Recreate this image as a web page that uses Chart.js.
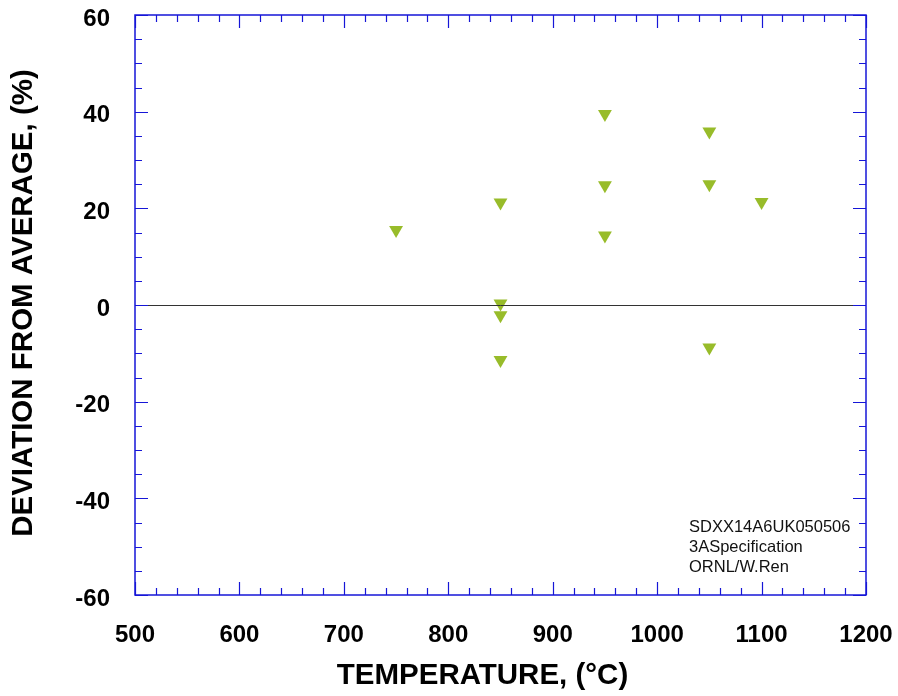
<!DOCTYPE html>
<html>
<head>
<meta charset="utf-8">
<script src="https://cdn.jsdelivr.net/npm/chart.js@4/dist/chart.umd.min.js"></script>
<style>
html,body{margin:0;padding:0;background:#fff;}
#wrap{width:898px;height:696px;position:relative;}
</style>
</head>
<body>
<div id="wrap"><canvas id="c" width="898" height="696"></canvas></div>
<script>
const temperatures = [750, 850, 850, 850, 850, 950, 950, 950, 1050, 1050, 1050, 1100];
const deviations   = [15.5, 21.2, 0.3, -2.1, -11.4, 39.5, 24.8, 14.4, 35.9, 25.0, -8.8, 21.3];
const xTickRange = {min: 500, max: 1200, major: 100, minor: 20};
const yTickRange = {min: -60, max: 60, major: 20, minor: 5};
const xTitle = 'TEMPERATURE, (°C)';
const yTitle = 'DEVIATION FROM AVERAGE, (%)';
const noteLines = ['SDXX14A6UK050506', '3ASpecification', 'ORNL/W.Ren'];

const AXIS_BLUE = 'rgb(22,22,215)';
const FONT = '"Liberation Sans", Arial, Helvetica, sans-serif';

const framePlugin = {
  id: 'frame',
  afterDatasetsDraw(chart) {
    const ctx = chart.ctx;
    const a = chart.chartArea;
    const xs = chart.scales.x, ys = chart.scales.y;
    ctx.save();
    // zero line
    ctx.strokeStyle = '#333';
    ctx.lineWidth = 1;
    const y0 = Math.round(ys.getPixelForValue(0)) + 0.5;
    ctx.beginPath(); ctx.moveTo(a.left, y0); ctx.lineTo(a.right, y0); ctx.stroke();

    ctx.strokeStyle = AXIS_BLUE;
    ctx.lineWidth = 1.5;
    ctx.strokeRect(a.left, a.top, a.right - a.left, a.bottom - a.top);
    ctx.lineWidth = 1.2;
    ctx.beginPath();
    for (let v = xTickRange.min; v <= xTickRange.max + 1e-9; v += xTickRange.minor) {
      const px = Math.round(xs.getPixelForValue(v)) + 0.5;
      const len = (Math.abs(v % xTickRange.major) < 1e-9) ? 13 : 7;
      ctx.moveTo(px, a.bottom); ctx.lineTo(px, a.bottom - len);
      ctx.moveTo(px, a.top); ctx.lineTo(px, a.top + len);
    }
    for (let v = yTickRange.min; v <= yTickRange.max + 1e-9; v += yTickRange.minor) {
      const py = Math.round(ys.getPixelForValue(v)) + 0.5;
      const len = (Math.abs(v % yTickRange.major) < 1e-9) ? 13 : 7;
      ctx.moveTo(a.left, py); ctx.lineTo(a.left + len, py);
      ctx.moveTo(a.right, py); ctx.lineTo(a.right - len, py);
    }
    ctx.stroke();

    // axis titles
    ctx.fillStyle = '#000';
    ctx.font = 'bold 29.5px ' + FONT;
    ctx.textAlign = 'center';
    ctx.textBaseline = 'middle';
    ctx.fillText(xTitle, a.left + 347.5, a.bottom + 81);
    ctx.save();
    ctx.translate(a.left - 111.5, a.top + 288);
    ctx.rotate(-Math.PI / 2);
    ctx.fillText(yTitle, 0, 0);
    ctx.restore();

    // note
    ctx.fillStyle = '#111';
    ctx.font = '16.5px ' + FONT;
    ctx.textBaseline = 'alphabetic';
    ctx.textAlign = 'left';
    noteLines.forEach((t, i) => ctx.fillText(t, a.right - 177, a.bottom - 63 + i * 20));
    ctx.restore();
  }
};

function zeroPad(s) { s.paddingTop = 0; s.paddingBottom = 0; s.paddingLeft = 0; s.paddingRight = 0; }

new Chart(document.getElementById('c'), {
  type: 'scatter',
  data: {
    datasets: [{
      data: temperatures.map((t, i) => ({x: t, y: deviations[i]})),
      pointStyle: 'triangle',
      rotation: 180,
      radius: 8,
      hoverRadius: 8,
      backgroundColor: '#98bc2a',
      borderColor: '#98bc2a',
      borderWidth: 0
    }]
  },
  options: {
    responsive: false,
    animation: false,
    events: [],
    layout: {padding: {left: 0, right: 32, top: 15, bottom: 0}},
    plugins: {legend: {display: false}, tooltip: {enabled: false}},
    scales: {
      x: {
        type: 'linear',
        min: xTickRange.min, max: xTickRange.max,
        grid: {display: false, drawTicks: false},
        border: {display: false},
        ticks: {stepSize: xTickRange.major, color: '#000', padding: 26,
                callback: v => String(v),
                font: {family: FONT, size: 24, weight: 'bold'}},
        afterFit(s) { s.height = 101; zeroPad(s); }
      },
      y: {
        type: 'linear',
        min: yTickRange.min, max: yTickRange.max,
        grid: {display: false, drawTicks: false},
        border: {display: false},
        ticks: {stepSize: yTickRange.major, color: '#000', padding: 25, labelOffset: 4,
                callback: v => String(v),
                font: {family: FONT, size: 24, weight: 'bold'}},
        afterFit(s) { s.width = 135; zeroPad(s); }
      }
    }
  },
  plugins: [framePlugin]
});
</script>
</body>
</html>
